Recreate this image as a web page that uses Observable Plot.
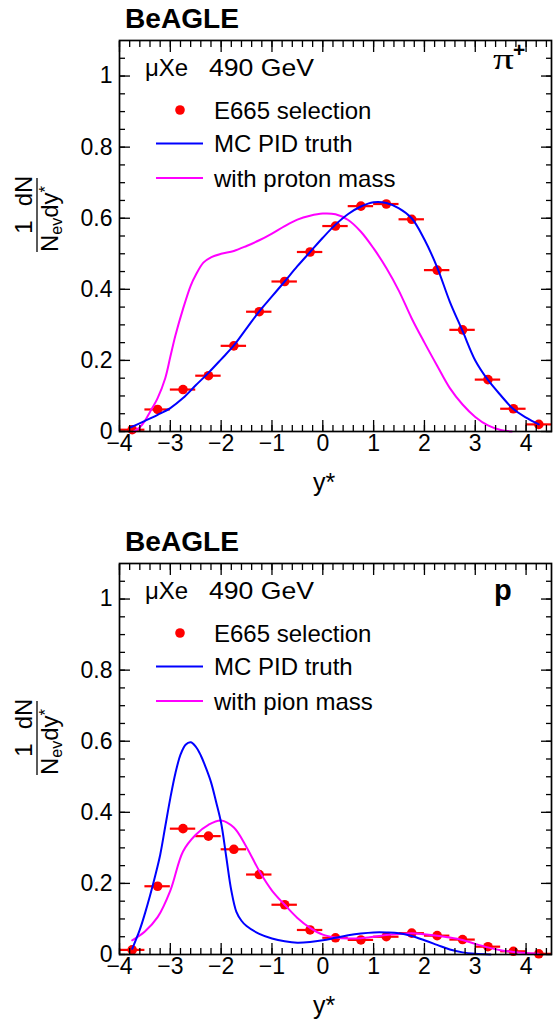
<!DOCTYPE html>
<html><head><meta charset="utf-8">
<script src="https://cdn.jsdelivr.net/npm/d3@7"></script>
<script src="https://cdn.jsdelivr.net/npm/@observablehq/plot@0.6"></script>
<style>
html,body{margin:0;padding:0;background:#fff;}
#chart{width:555px;}
#chart svg{display:block;}
</style></head><body><div id="chart"></div>
<script>
// ---------------- data ----------------
const binCenters = [-3.75,-3.25,-2.75,-2.25,-1.75,-1.25,-0.75,-0.25,0.25,0.75,1.25,1.75,2.25,2.75,3.25,3.75,4.25];
const binHalfWidth = 0.25;

// pi+ panel
const pionE665 = [0.005,0.062,0.118,0.157,0.241,0.337,0.422,0.505,0.578,0.634,0.640,0.597,0.454,0.286,0.146,0.064,0.020];
const pionTruthX = [-3.78,-3.5,-3.25,-3.0,-2.75,-2.5,-2.25,-2.0,-1.75,-1.5,-1.25,-1.0,-0.75,-0.5,-0.25,0,0.25,0.5,0.75,1.0,1.25,1.5,1.75,2.0,2.25,2.5,2.75,3.0,3.25,3.5,3.75,4.0,4.25];
const pionTruthY = [0.012,0.03,0.047,0.066,0.094,0.13,0.165,0.203,0.242,0.29,0.338,0.38,0.422,0.465,0.505,0.545,0.582,0.612,0.633,0.645,0.643,0.628,0.6,0.54,0.462,0.365,0.283,0.2,0.145,0.102,0.063,0.039,0.02];
const pionAltX = [-3.72,-3.6,-3.5,-3.4,-3.25,-3.1,-3.0,-2.9,-2.75,-2.6,-2.5,-2.35,-2.2,-2.0,-1.75,-1.5,-1.25,-1.0,-0.75,-0.5,-0.25,0,0.25,0.5,0.75,1.0,1.25,1.5,1.75,2.0,2.25,2.5,2.75,3.0,3.25,3.5,3.72];
const pionAltY = [0.0,0.012,0.03,0.055,0.094,0.15,0.21,0.27,0.345,0.41,0.44,0.475,0.49,0.5,0.508,0.522,0.538,0.557,0.578,0.596,0.607,0.613,0.611,0.595,0.562,0.515,0.46,0.395,0.318,0.25,0.185,0.122,0.076,0.041,0.017,0.004,0.0];

// p panel
const protonE665 = [0.013,0.192,0.354,0.333,0.296,0.225,0.140,0.069,0.047,0.041,0.050,0.060,0.053,0.042,0.022,0.009,0.002];
const protonTruthX = [-3.75,-3.6,-3.5,-3.4,-3.3,-3.2,-3.1,-3.0,-2.9,-2.8,-2.7,-2.6,-2.5,-2.4,-2.3,-2.2,-2.1,-2.0,-1.9,-1.8,-1.7,-1.6,-1.5,-1.25,-1.0,-0.75,-0.5,-0.25,0,0.25,0.5,0.75,1.0,1.25,1.5,1.75,2.0,2.25,2.5,2.75,3.0,3.3];
const protonTruthY = [0.016,0.07,0.115,0.165,0.22,0.28,0.36,0.44,0.51,0.562,0.59,0.597,0.585,0.56,0.525,0.485,0.43,0.37,0.275,0.18,0.12,0.095,0.08,0.058,0.045,0.037,0.033,0.035,0.04,0.047,0.054,0.059,0.062,0.062,0.06,0.052,0.04,0.027,0.014,0.006,0.002,0.0];
const protonAltX = [-3.75,-3.5,-3.25,-3.0,-2.75,-2.5,-2.25,-2.0,-1.75,-1.5,-1.25,-1.0,-0.75,-0.5,-0.25,0,0.25,0.5,0.75,1.0,1.25,1.5,1.75,2.0,2.25,2.5,2.75,3.0,3.25,3.5,3.75,4.0,4.25];
const protonAltY = [0.04,0.065,0.105,0.18,0.29,0.337,0.365,0.377,0.357,0.302,0.235,0.18,0.14,0.103,0.075,0.056,0.048,0.045,0.046,0.05,0.055,0.058,0.06,0.057,0.053,0.048,0.041,0.03,0.02,0.012,0.007,0.004,0.002];

// axes / labels
const xMajorTicks = [-4,-3,-2,-1,0,1,2,3,4];
const xTickLabels = ["\u22124","\u22123","\u22122","\u22121","0","1","2","3","4"];
const yMajorTicks = [0,0.2,0.4,0.6,0.8,1];
const yTickLabels = ["0","0.2","0.4","0.6","0.8","1"];
const xMinorTicks = d3.range(-20, 23).map(i => i / 5);
const yMinorTicks = d3.range(0, 22).map(i => i / 20);

const panelTitle = "BeAGLE";
const beamLabel = ["\u03bcXe", "490 GeV"];
const legendPion = ["E665 selection", "MC PID truth", "with proton mass"];
const legendProton = ["E665 selection", "MC PID truth", "with pion mass"];
const xTitle = "y*";

const RED = "#ff0000", BLUE = "#0000ff", MAGENTA = "#ff00ff";
const FONT = "'Liberation Sans', Arial, Helvetica, sans-serif";

// ---------------- helpers ----------------
const toPoints = ys => binCenters.map((x, i) => ({x, y: ys[i]}));
const toCurve = (xs, ys) => xs.map((x, i) => ({x, y: ys[i]}));

function annotations(particle, legend) {
  return () => {
    const g = d3.create("svg:g").attr("font-family", FONT).attr("fill", "black").attr("text-anchor", "start");
    // title
    g.append("text").attr("x", 125).attr("y", 28).attr("font-size", 27).attr("font-weight", "bold")
      .attr("textLength", 114).attr("lengthAdjust", "spacingAndGlyphs").text(panelTitle);
    // beam label
    g.append("text").attr("x", 145).attr("y", 76).attr("font-size", 24).text(beamLabel[0]);
    g.append("text").attr("x", 209).attr("y", 76).attr("font-size", 24)
      .attr("textLength", 105).attr("lengthAdjust", "spacingAndGlyphs").text(beamLabel[1]);
    // particle
    if (particle === "pi") {
      g.append("text").attr("x", 493).attr("y", 69).attr("font-size", 30)
        .attr("font-family", "'Liberation Serif','DejaVu Serif',serif")
        .attr("textLength", 21).attr("lengthAdjust", "spacingAndGlyphs").text("\u03c0");
      g.append("text").attr("x", 513).attr("y", 57).attr("font-size", 21).attr("font-weight", "bold").text("+");
    } else {
      g.append("text").attr("x", 494).attr("y", 77).attr("font-size", 29).attr("font-weight", "bold").text("p");
    }
    // legend
    g.append("circle").attr("cx", 180).attr("cy", 110).attr("r", 4.8).attr("fill", RED);
    g.append("line").attr("x1", 156).attr("x2", 203).attr("y1", 143.5).attr("y2", 143.5).attr("stroke", BLUE).attr("stroke-width", 2);
    g.append("line").attr("x1", 156).attr("x2", 203).attr("y1", 178).attr("y2", 178).attr("stroke", MAGENTA).attr("stroke-width", 2);
    [118.5, 152, 186.5].forEach((yy, i) =>
      g.append("text").attr("x", 214).attr("y", yy).attr("font-size", 24).text(legend[i]));
    // x title
    g.append("text").attr("x", 324).attr("y", 491).attr("font-size", 25).attr("text-anchor", "middle").text(xTitle);
    // y title: (1 / N_ev) (dN / dy*)
    const t = g.append("g").attr("transform", "translate(37,215) rotate(-90)").attr("font-size", 24);
    t.append("line").attr("x1", -37).attr("x2", 37).attr("y1", 0).attr("y2", 0).attr("stroke", "black").attr("stroke-width", 1.3);
    t.append("text").attr("x", -12).attr("y", -5).attr("text-anchor", "middle").text("1");
    t.append("text").attr("x", 24).attr("y", -5).attr("text-anchor", "middle").text("dN");
    const den = t.append("text").attr("x", -37).attr("y", 21);
    den.append("tspan").text("N");
    den.append("tspan").attr("font-size", 16).attr("dy", 4).text("ev");
    den.append("tspan").attr("dy", -4).text("dy");
    den.append("tspan").attr("font-size", 17).attr("dy", -7).text("*");
    return g.node();
  };
}

function panel({height, points, truth, alt, particle, legend}) {
  const axisCommon = {fill: "none", label: null, strokeWidth: 1.3};
  return Plot.plot({
    width: 555,
    height,
    marginLeft: 119, marginRight: 4, marginTop: 40, marginBottom: height - 431,
    x: {domain: [-4, 4.5]},
    y: {domain: [0, 1.1]},
    style: {fontFamily: FONT, background: "white", color: "black", overflow: "visible"},
    marks: [
      // data
      Plot.ruleY(points, {y: "y", x1: d => d.x - binHalfWidth, x2: d => d.x + binHalfWidth, stroke: RED, strokeWidth: 2.2}),
      Plot.dot(points, {x: "x", y: "y", r: 4.8, fill: RED}),
      Plot.line(alt, {x: "x", y: "y", stroke: MAGENTA, strokeWidth: 2, curve: "catmull-rom"}),
      Plot.line(truth, {x: "x", y: "y", stroke: BLUE, strokeWidth: 2, curve: "catmull-rom"}),
      // ticks (inward, all four sides)
      Plot.axisX(xMinorTicks, {anchor: "bottom", tickSize: -6, ...axisCommon}),
      Plot.axisX(xMajorTicks, {anchor: "bottom", tickSize: -11, ...axisCommon}),
      Plot.axisX(xMinorTicks, {anchor: "top", tickSize: -6, ...axisCommon}),
      Plot.axisX(xMajorTicks, {anchor: "top", tickSize: -11, ...axisCommon}),
      Plot.axisY(yMinorTicks, {anchor: "left", tickSize: -6, ...axisCommon}),
      Plot.axisY(yMajorTicks, {anchor: "left", tickSize: -11, ...axisCommon}),
      Plot.axisY(yMinorTicks, {anchor: "right", tickSize: -6, ...axisCommon}),
      Plot.axisY(yMajorTicks, {anchor: "right", tickSize: -11, ...axisCommon}),
      // tick labels
      Plot.axisX(xMajorTicks, {anchor: "bottom", tickSize: 0, tickPadding: 3, fontSize: 23, label: null,
        tickFormat: d => xTickLabels[xMajorTicks.indexOf(d)]}),
      Plot.axisY(yMajorTicks, {anchor: "left", tickSize: 0, tickPadding: 7, fontSize: 23, label: null,
        tickFormat: d => yTickLabels[yMajorTicks.indexOf(d)]}),
      Plot.frame({stroke: "black", strokeWidth: 1.7}),
      annotations(particle, legend)
    ]
  });
}

const chart = document.getElementById("chart");
chart.append(panel({
  height: 523,
  points: toPoints(pionE665),
  truth: toCurve(pionTruthX, pionTruthY),
  alt: toCurve(pionAltX, pionAltY),
  particle: "pi",
  legend: legendPion
}));
chart.append(panel({
  height: 499,
  points: toPoints(protonE665),
  truth: toCurve(protonTruthX, protonTruthY),
  alt: toCurve(protonAltX, protonAltY),
  particle: "p",
  legend: legendProton
}));
</script>
</body></html>
